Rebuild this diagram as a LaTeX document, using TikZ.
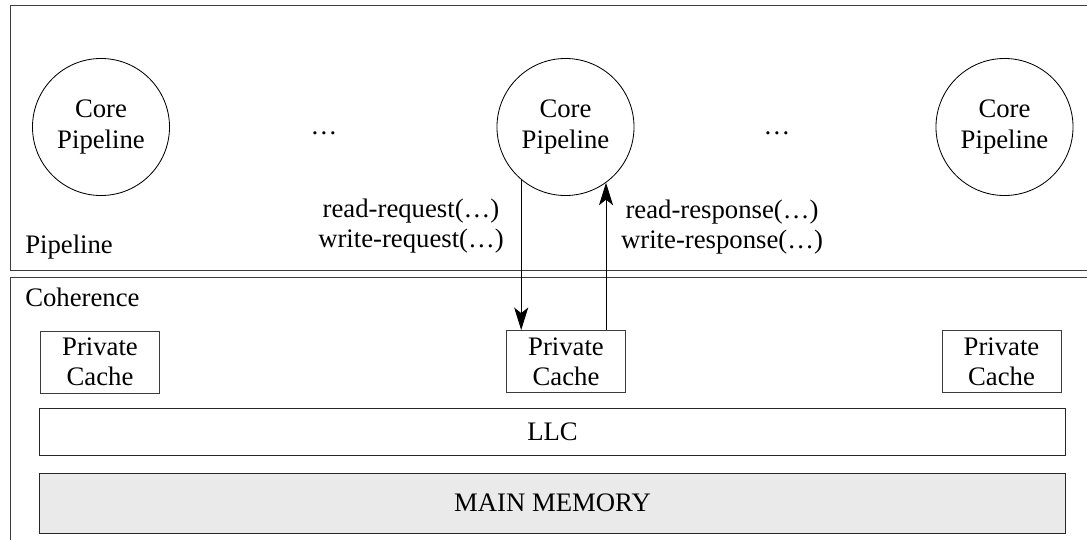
\documentclass[tikz,border=0pt]{standalone}
\usepackage{fontspec}
\setmainfont{Liberation Serif}
\newfontfamily\diagfont{Liberation Serif}
\usepackage{xcolor}
\usetikzlibrary{arrows.meta}
\definecolor{linegray}{HTML}{3c3c3c}
\definecolor{memgray}{HTML}{eaeaea}

\tikzset{
	txt/.style={font=\diagfont\fontsize{19}{21.5}\selectfont, align=center, inner sep=0pt},
	core/.style={txt, circle, draw=black, line width=0.6pt, minimum size=3.425cm},
	cache/.style={txt, rectangle, draw=linegray, line width=0.7pt, minimum width=2.975cm, minimum height=1.55cm},
	bar/.style={txt, rectangle, draw=black!85, line width=0.7pt, minimum width=25.625cm},
	msg/.style={-{Stealth[length=16pt,width=10pt,inset=4pt]}, color=black, line width=0.6pt}
}

\begin{document}
\begin{tikzpicture}[x=0.025cm, y=-0.025cm]
		\useasboundingbox (0,0) rectangle (1087,540);
		\draw[color=linegray, line width=0.7pt] (10,5) rectangle (1100,270);
		\draw[color=linegray, line width=0.7pt] (10,277) rectangle (1100,560);
		\node[txt, anchor=west] (pipe) at (25,247) {Pipeline};
		\node[txt, anchor=west] (coh) at (25,297) {Coherence};
		\node[core] (coreA) at (101,127) {Core\\Pipeline};
		\node[core] (coreB) at (565.5,127) {Core\\Pipeline};
		\node[core] (coreC) at (1004.5,127) {Core\\Pipeline};
		\node[txt] (dotsA) at (324,133) {…};
		\node[txt] (dotsB) at (777,133) {…};
		\node[txt] (req) at (411,226) {read-request(…)\\write-request(…)};
		\node[txt] (resp) at (722,227) {read-response(…)\\write-response(…)};
		\node[cache] (cacheA) at (100,362) {Private\\Cache};
		\node[cache] (cacheB) at (566,361.5) {Private\\Cache};
		\node[cache] (cacheC) at (1001.5,361.5) {Private\\Cache};
		\node[bar, minimum height=1.175cm] (llc) at (552.5,431.5) {LLC};
		\node[bar, minimum height=1.5cm, fill=memgray] (mem) at (552.5,503) {MAIN MEMORY};
		\draw[msg] (coreB.230.6) -- (coreB.230.6 |- cacheB.north);
		\draw[msg] (cacheB.north -| coreB.306.2) -- (coreB.306.2);
	\end{tikzpicture}
\end{document}
